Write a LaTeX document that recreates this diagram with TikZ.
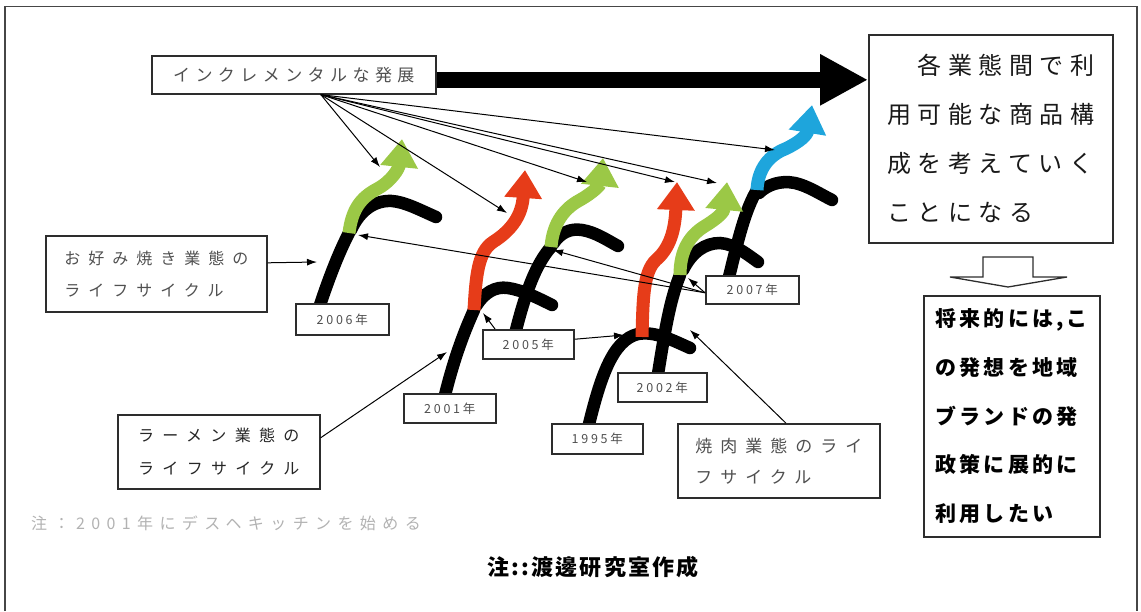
\documentclass[tikz,border=0pt]{standalone}
\usepackage{fontspec}
\newfontfamily\jp{Noto Sans CJK JP}
\usetikzlibrary{arrows.meta}
\definecolor{arrgreen}{RGB}{155,200,70}
\definecolor{arrred}{RGB}{230,60,25}
\definecolor{arrblue}{RGB}{30,165,220}
\definecolor{labgray}{RGB}{80,80,80}
\definecolor{framegray}{RGB}{70,70,70}
\definecolor{boxline}{RGB}{45,45,45}
\begin{document}
\begin{tikzpicture}[x=1pt,y=-1pt,
  box/.style={draw=boxline, line width=1.6pt, fill=white, inner sep=0pt, anchor=north west},
  yearbox/.style={box, line width=1.5pt, text=labgray,
    font={\jp\fontsize{12.5}{12.5}\selectfont\addfontfeature{LetterSpace=22}}},
  thinarr/.style={line width=1pt, -{Latex[length=10pt,width=7pt]}},
  blk/.style={line width=12.5pt, line cap=round},
  carrow/.style={line width=13pt, -{Triangle[length=28pt,width=36pt]}},
]
\useasboundingbox (0,0) rectangle (1141,611);
\draw[framegray, line width=1.5pt] (5,611) -- (5,6.5) -- (1137,6.5) -- (1137,611);

% ---- black life-cycle strokes
% A (2006)
\draw[blk] (320,305) .. controls (330,275) and (340,250) .. (349,233);
\draw[blk] (351,230) .. controls (360,210) and (375,200) .. (392,201) .. controls (405,202) and (420,210) .. (436,217);
% B (2001)
\draw[blk] (445,395) .. controls (455,355) and (465,330) .. (474,310);
\draw[blk] (476,306) .. controls (484,293) and (495,286) .. (508,288) .. controls (522,290) and (538,298) .. (552,305);
% C (2005)
\draw[blk] (516,330) .. controls (525,295) and (535,265) .. (551,247);
\draw[blk] (553,244) .. controls (560,233) and (570,228) .. (582,230) .. controls (595,232) and (607,240) .. (618,246);
% D (1995)
\draw[blk] (589,424) .. controls (600,380) and (612,340) .. (638,334) .. controls (655,331) and (672,340) .. (690,348);
% E (2002)
\draw[blk] (658,374) .. controls (665,330) and (670,300) .. (680,275);
\draw[blk] (683,270) .. controls (692,252) and (705,243) .. (720,243) .. controls (735,244) and (748,255) .. (758,262);
% F (2007)
\draw[blk] (729,277) .. controls (738,240) and (745,210) .. (757,190);
\draw[blk] (759,193) .. controls (767,185) and (780,180) .. (795,183) .. controls (808,186) and (820,194) .. (832,200);

% ---- coloured growth arrows
\draw[carrow, arrgreen] (349,233) .. controls (352,208) and (362,197) .. (377,189) .. controls (392,181) and (399,168) .. (402,139);
\draw[carrow, arrred] (474,310) .. controls (476,275) and (478,252) .. (493,242) .. controls (512,230) and (522,215) .. (525,170);
\draw[carrow, arrgreen] (551,247) .. controls (553,222) and (565,208) .. (580,200) .. controls (594,192) and (600,185) .. (603,158);
\draw[carrow, arrred] (642,337) .. controls (643,300) and (643,272) .. (656,260) .. controls (670,248) and (675,230) .. (677,182);
\draw[carrow, arrgreen] (680,275) .. controls (680,250) and (690,235) .. (705,226) .. controls (718,218) and (724,212) .. (727,182);
\draw[carrow, arrblue] (757,190) .. controls (758,168) and (770,155) .. (785,149) .. controls (800,142) and (807,135) .. (812,105);

% ---- arrow targets
\coordinate (tA) at (380,167);
\coordinate (tB) at (507,213);
\coordinate (tC) at (587,182);
\coordinate (tD) at (675,182);
\coordinate (tE) at (717,183);
\coordinate (tF) at (775,150);
\coordinate (gA) at (358,235);
\coordinate (gC) at (553,250);
\coordinate (gE) at (688,278);
\coordinate (rB) at (483,313);
\coordinate (rD) at (624,335);
\coordinate (kA) at (317,262);
\coordinate (kB) at (447,352);
\coordinate (kD) at (690,330);

% ---- boxes
\node[box, minimum width=284pt, minimum height=38pt, text=labgray,
  font={\jp\fontsize{17}{17}\selectfont\addfontfeature{LetterSpace=32}}] (ib) at (151,55) {インクレメンタルな発展};
\node[box, minimum width=244pt, minimum height=208pt, align=left, text=black!90,
  font={\jp\fontsize{24}{49}\selectfont\addfontfeature{LetterSpace=27}}] (rb) at (868,34)
  {　各業態間で利\\用可能な商品構\\成を考えていく\\ことになる};
\node[box, minimum width=176pt, minimum height=241pt, align=left,
  font={\jp\bfseries\fontsize{21}{48.7}\selectfont\addfontfeature{LetterSpace=15}}] (bb) at (923,295)
  {将来的には,こ\\の発想を地域\\ブランドの発\\政策に展的に\\利用したい};
\node[box, minimum width=221pt, minimum height=76pt, align=left, text=labgray,
  font={\jp\fontsize{16}{32}\selectfont\addfontfeature{LetterSpace=50}}] (ok) at (45,235)
  {お好み焼き業態の\\ライフサイクル};
\node[box, minimum width=202pt, minimum height=74pt, align=left, text=black!85,
  font={\jp\fontsize{16}{33}\selectfont\addfontfeature{LetterSpace=52}}] (rm) at (117,414)
  {ラーメン業態の\\ライフサイクル};
\node[box, minimum width=202pt, minimum height=74pt, align=left, text=labgray,
  font={\jp\fontsize{17}{31}\selectfont\addfontfeature{LetterSpace=47}}] (yk) at (677,423)
  {焼肉業態のライ\\フサイクル\phantom{イク}};

\node[yearbox, minimum width=93pt, minimum height=31pt] (y06) at (295,303) {2006年};
\node[yearbox, minimum width=92pt, minimum height=29pt] (y01) at (403,393) {2001年};
\node[yearbox, minimum width=91pt, minimum height=29pt] (y05) at (482,329) {2005年};
\node[yearbox, minimum width=91pt, minimum height=30pt] (y95) at (551,423) {1995年};
\node[yearbox, minimum width=89pt, minimum height=29pt] (y02) at (617,372) {2002年};
\node[yearbox, minimum width=93pt, minimum height=28pt] (y07) at (705,275) {2007年};

\node[text=black!30, font={\jp\fontsize{16}{16}\selectfont\addfontfeature{LetterSpace=40}}] (note) at (226,523)
  {注：2001年にデスヘキッチンを始める};
\node[font={\jp\bfseries\fontsize{22}{22}\selectfont\addfontfeature{LetterSpace=10}}] (credit) at (593,567)
  {注::渡邊研究室作成};

% ---- big arrow
\draw[line width=16pt, -{Triangle[length=48pt,width=48pt]}] ([yshift=-5pt]ib.east) -- ([yshift=-5pt]ib.east -| rb.west);

% ---- hollow down arrow
\draw[boxline, line width=1.3pt, fill=white] (983,257) -- (1033,257) -- (1033,277) -- (1067,277) -- (1008,287) -- (950,277) -- (983,277) -- cycle;

% ---- thin connectors
\foreach \t in {tA,tB,tC,tD,tE,tF}
  \draw[thinarr] ([xshift=27pt]ib.south) -- (\t);
\foreach \t in {gA,gC,gE}
  \draw[thinarr] ([yshift=-3pt]y07.west) -- (\t);
\draw[thinarr] ([xshift=13pt]y05.north west) -- (rB);
\draw[thinarr] ([yshift=5pt]y05.east) -- (rD);
\draw[thinarr] ([yshift=11pt]ok.east) -- (kA);
\draw[thinarr] ([yshift=14pt]rm.east) -- (kB);
\draw[thinarr] ([xshift=7pt]yk.north) -- (kD);
\end{tikzpicture}
\end{document}
